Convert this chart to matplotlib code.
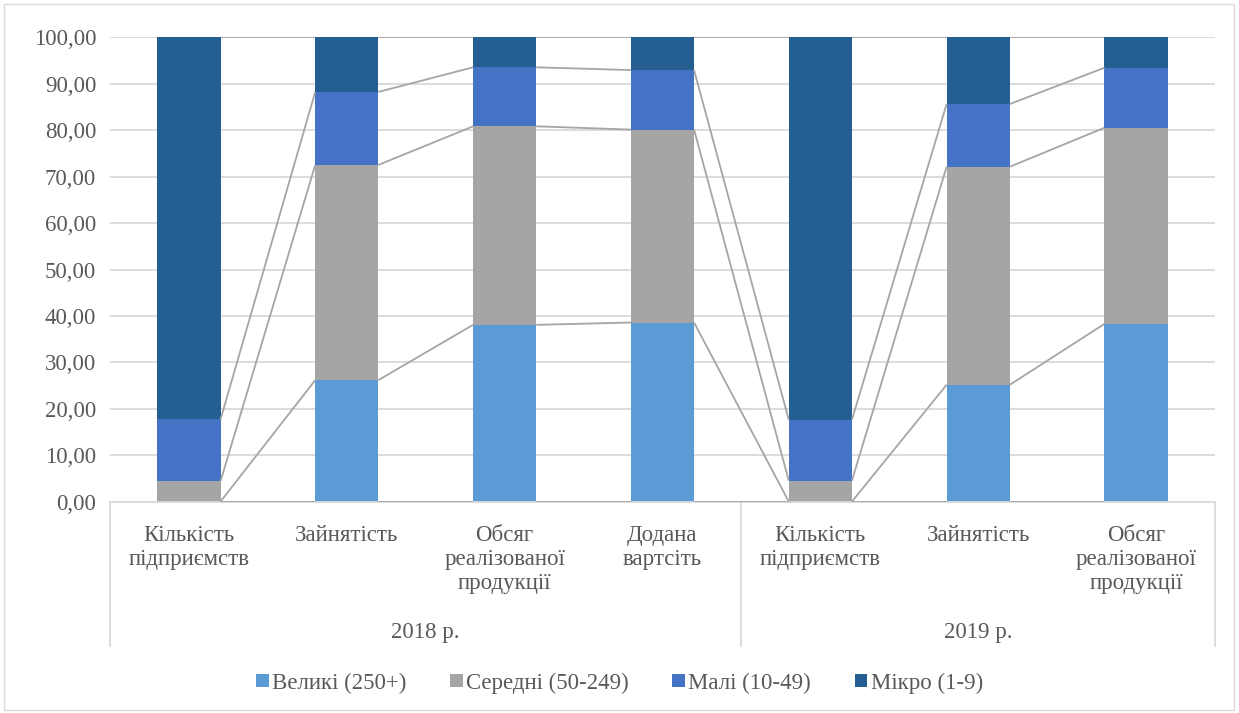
import numpy as np
import matplotlib.pyplot as plt
from matplotlib.patches import Rectangle

plt.rcParams['font.family'] = ['Liberation Serif', 'DejaVu Serif']

categories = ['Кількість\nпідприємств', 'Зайнятість', 'Обсяг\nреалізованої\nпродукції',
              'Додана\nвартсіть',
              'Кількість\nпідприємств', 'Зайнятість', 'Обсяг\nреалізованої\nпродукції']
groups = ['2018 р.', '2019 р.']
group_sizes = [4, 3]

series_names = ['Великі (250+)', 'Середні (50-249)', 'Малі (10-49)', 'Мікро (1-9)']
large = [0.08, 26.2, 38.1, 38.6, 0.08, 25.2, 38.3]
medium = [4.36, 46.3, 42.7, 41.5, 4.49, 46.9, 42.2]
small = [13.3, 15.7, 12.7, 12.8, 13.1, 13.5, 12.9]
micro = [82.26, 11.8, 6.5, 7.1, 82.33, 14.4, 6.6]
colors = ['#5B9BD5', '#A5A5A5', '#4472C4', '#255E91']

text_col = '#595959'
grid_col = '#D9D9D9'
fs = 16.5

fig = plt.figure(figsize=(12.39, 7.13), dpi=100)
ax = fig.add_axes([0.0888, 0.296, 0.8918, 0.652])

x = np.arange(len(categories)) + 0.5
w = 0.4
data = np.array([large, medium, small, micro])
bottoms = np.zeros(len(categories))
tops = []
for vals, name, c in zip(data, series_names, colors):
    ax.bar(x, vals, w, bottom=bottoms, color=c, label=name, zorder=2)
    bottoms = bottoms + vals
    tops.append(bottoms.copy())

# series lines between adjacent bars
for t in [np.zeros(len(categories))] + tops:
    for i in range(len(categories) - 1):
        ax.plot([x[i] + w / 2, x[i + 1] - w / 2], [t[i], t[i + 1]],
                color='#A5A5A5', lw=1.3, zorder=3, solid_capstyle='butt')

ax.set_xlim(0, len(categories))
ax.set_ylim(0, 100)
ax.set_yticks(np.arange(0, 101, 10))
ax.set_yticklabels([f'{v:.2f}'.replace('.', ',') for v in np.arange(0, 101, 10)],
                   fontsize=fs, color=text_col)
ax.tick_params(axis='y', length=0, pad=10)
ax.set_xticks([])
ax.grid(axis='y', color=grid_col, lw=1.3, zorder=0)
for s in ['top', 'right', 'left']:
    ax.spines[s].set_visible(False)
ax.spines['bottom'].set_color(grid_col)
ax.spines['bottom'].set_linewidth(1.3)

trans = ax.get_xaxis_transform()
for xi, lab in zip(x, categories):
    ax.text(xi, -0.05, lab, transform=trans, ha='center', va='top',
            fontsize=fs, color=text_col, linespacing=1.17)

# group separators and labels
edges = np.concatenate([[0], np.cumsum(group_sizes)])
for e in edges:
    ax.plot([e, e], [0, -0.31], transform=trans, color=grid_col, lw=1.3,
            clip_on=False)
for g, a, b in zip(groups, edges[:-1], edges[1:]):
    ax.text((a + b) / 2, -0.28, g, transform=trans, ha='center', va='center',
            fontsize=fs, color=text_col)

leg = fig.legend(loc='center', bbox_to_anchor=(0.5, 0.042), ncol=4, frameon=False,
                 fontsize=fs, handlelength=0.55, handleheight=0.55, handletextpad=0.15,
                 columnspacing=1.9)
for t in leg.get_texts():
    t.set_color(text_col)

fig.patches.append(Rectangle((0.003, 0.004), 0.993, 0.991, transform=fig.transFigure,
                             fill=False, edgecolor=grid_col, lw=1.0))

fig.savefig('out.png', dpi=100)
